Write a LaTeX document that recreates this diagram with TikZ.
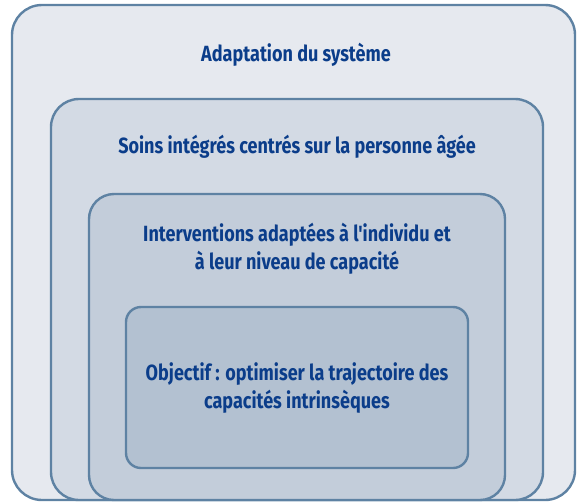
\documentclass[tikz,border=0pt]{standalone}
\usepackage{fontspec}
\setmainfont{Fira Sans}[FakeStretch=0.82,Ligatures=TeXOff]
\definecolor{edge}{HTML}{5E82A3}
\definecolor{fillA}{HTML}{E6E9EF}
\definecolor{fillB}{HTML}{D3DAE4}
\definecolor{fillC}{HTML}{C3CDDA}
\definecolor{fillD}{HTML}{B3C1D1}
\definecolor{txt}{HTML}{0B3D8A}
\begin{document}
\begin{tikzpicture}[x=1pt,y=-1pt,
  layer/.style={draw=edge,line width=2.4pt},
  lbl/.style={text=txt,font=\fontsize{22}{28.5}\selectfont\bfseries,align=center,inner sep=0pt}]
\useasboundingbox (0,0) rectangle (577,503);
\draw[layer,fill=fillA,rounded corners=30pt] (12,5) rectangle (575,500);
\draw[layer,fill=fillB,rounded corners=28pt] (51,99) rectangle (543,500);
\draw[layer,fill=fillC,rounded corners=25pt] (89,194) rectangle (505,500);
\draw[layer,fill=fillD,rounded corners=15pt] (126,307) rectangle (468,468);
\node[lbl] (t1) at (296,55) {Adaptation du système};
\node[lbl] (t2) at (297,147) {Soins intégrés centrés sur la personne âgée};
\node[lbl] (t3) at (297,249) {Interventions adaptées à l'individu et\\à leur niveau de capacité};
\node[lbl] (t4) at (297,388) {Objectif : optimiser la trajectoire des\\capacités intrinsèques};
\end{tikzpicture}
\end{document}
